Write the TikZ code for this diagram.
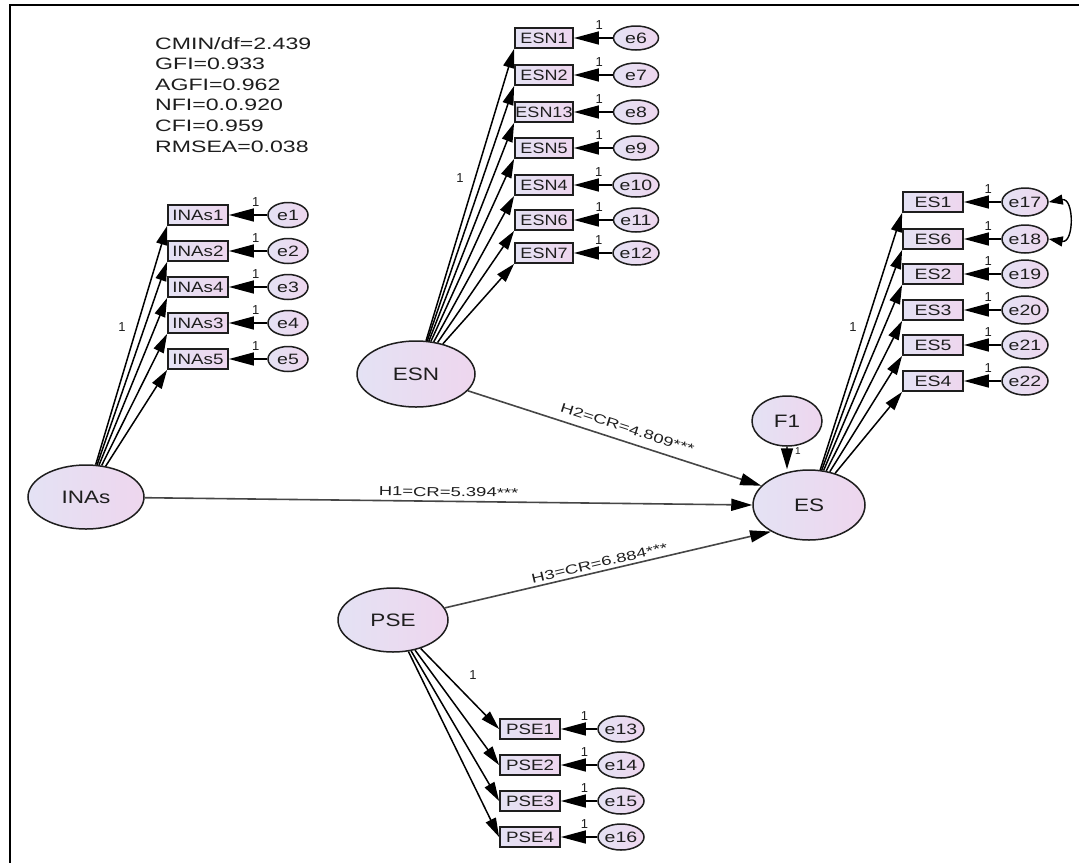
\documentclass[tikz,border=0pt]{standalone}
\usepackage{fontspec}
\setmainfont{Liberation Sans}
\usetikzlibrary{shapes.geometric,arrows.meta,calc}
\definecolor{lavL}{RGB}{228,226,244}
\definecolor{lavR}{RGB}{238,214,238}
\definecolor{ink}{RGB}{30,30,30}
\definecolor{pathgray}{RGB}{70,70,70}
\newcommand\stx[2]{\scalebox{#1}[1]{#2}}
\tikzset{
  latent/.style={ellipse, draw=ink, line width=1.5pt, left color=lavL, right color=lavR,
    inner sep=0pt, minimum width=110pt, minimum height=66pt, text=ink,
    font=\fontsize{18}{18}\selectfont},
  errv/.style={ellipse, draw=ink, line width=1.5pt, left color=lavL, right color=lavR,
    inner sep=0pt, minimum width=45pt, minimum height=26pt, text=ink,
    font=\fontsize{15}{15}\selectfont},
  obs/.style={rectangle, draw=ink, line width=1.8pt, left color=lavL, right color=lavR,
    inner sep=0pt, minimum width=60pt, minimum height=20pt, text=ink,
    font=\fontsize{15}{15}\selectfont},
  load/.style={draw=black, line width=1.5pt, -{Triangle[length=19pt,width=11pt,color=black]}},
  errarr/.style={draw=black, line width=1.5pt, -{Triangle[length=25pt,width=13pt,color=black]}},
  hpath/.style={draw=pathgray, line width=1.6pt, -{Triangle[length=21pt,width=12pt,color=black]}},
  cov/.style={draw=black, line width=1.4pt, {Triangle[length=14pt,width=10pt,color=black]}-{Triangle[length=14pt,width=10pt,color=black]}},
  one/.style={font=\fontsize{13}{13}\selectfont, text=ink},
  hlab/.style={font=\fontsize{13}{13}\selectfont, text=ink, sloped, inner sep=1pt},
}
\begin{document}
\begin{tikzpicture}[x=1pt,y=-1pt]
\useasboundingbox (0,0) rectangle (1079,863);
\fill[white] (0,0) rectangle (1079,863);
% frame
\draw[line width=2.5pt] (1079,5) -- (10,5) -- (10,863);

% fit indices
\node[anchor=north west, align=left, inner sep=0pt, text=ink,
  font=\fontsize{16.5}{20.6}\selectfont] (fit) at (155,37)
  {\stx{1.4}{CMIN/df=2.439}\\ \stx{1.4}{GFI=0.933}\\ \stx{1.4}{AGFI=0.962}\\
   \stx{1.4}{NFI=0.0.920}\\ \stx{1.4}{CFI=0.959}\\ \stx{1.4}{RMSEA=0.038}};

% latent variables
\node[latent, minimum width=116pt, minimum height=64pt] (INAs) at (86,497) {\stx{1.25}{INAs}};
\node[latent, minimum width=118pt, minimum height=66pt] (ESN) at (416,374) {\stx{1.25}{ESN}};
\node[latent, minimum width=112pt, minimum height=70pt] (ES) at (809,505) {\stx{1.25}{ES}};
\node[latent, minimum height=64pt] (PSE) at (393,620) {\stx{1.25}{PSE}};
\node[latent, minimum width=70pt, minimum height=50pt] (F1) at (787,421) {\stx{1.25}{F1}};

% INAs indicators
\foreach \lab/\err/\y [count=\k] in {INAs1/e1/215, INAs2/e2/251, INAs4/e3/287, INAs3/e4/323, INAs5/e5/359}{
  \node[obs] (ia\k) at (198,\y) {\stx{1.25}{\lab}};
  \node[errv, minimum width=40pt, minimum height=25pt] (ie\k) at (288,\y) {\stx{1.3}{\err}};
  \draw[errarr] (ie\k) -- (ia\k) node[pos=0.3, above=4pt, one] {1};
  \draw[load] (INAs) -- (ia\k.south west);
}
\node[one] (oneI) at (122,327) {1};

% ESN indicators
\foreach \lab/\err/\y [count=\k] in {ESN1/e6/38, ESN2/e7/75, ESN13/e8/112, ESN5/e9/148, ESN4/e10/185, ESN6/e11/220, ESN7/e12/253}{
  \node[obs, minimum width=58pt] (na\k) at (544,\y) {\stx{1.2}{\lab}};
  \node[errv, minimum height=24pt] (ne\k) at (636,\y) {\stx{1.3}{\err}};
  \draw[errarr] (ne\k) -- (na\k) node[pos=0.35, above=4pt, one] {1};
  \draw[load] (ESN) -- (na\k.south west);
}
\node[one] (oneN) at (460,178) {1};

% ES indicators
\foreach \lab/\err/\y [count=\k] in {ES1/e17/202, ES6/e18/239, ES2/e19/274, ES3/e20/310, ES5/e21/345, ES4/e22/381}{
  \node[obs] (sa\k) at (933,\y) {\stx{1.3}{\lab}};
  \node[errv, minimum width=46pt, minimum height=28pt] (se\k) at (1025,\y) {\stx{1.3}{\err}};
  \draw[errarr] (se\k) -- (sa\k) node[pos=0.35, above=4pt, one] {1};
  \draw[load] (ES) -- (sa\k.south west);
}
\node[one] (oneS) at (853,327) {1};
\draw[cov] (se1.east) to[out=10, in=-10, looseness=1.8] (se2.east);

% PSE indicators
\foreach \lab/\err/\y [count=\k] in {PSE1/e13/729, PSE2/e14/765, PSE3/e15/801, PSE4/e16/837}{
  \node[obs] (pa\k) at (530,\y) {\stx{1.25}{\lab}};
  \node[errv, minimum width=46pt, minimum height=26pt] (pe\k) at (621,\y) {\stx{1.3}{\err}};
  \draw[errarr] (pe\k) -- (pa\k) node[pos=0.35, above=4pt, one] {1};
  \draw[load] (PSE) -- (pa\k.west);
}
\node[one] (oneP) at (473,675) {1};

% structural paths
\draw[hpath] (INAs) -- (ES.west) node[hlab, pos=0.5, above=3pt] {\stx{1.42}{H1=CR=5.394***}};
\draw[hpath] (ESN) -- (ES.158) node[hlab, pos=0.53, above=7pt] {\stx{1.42}{H2=CR=4.809***}};
\draw[hpath] (PSE) -- (ES.215) node[hlab, pos=0.48, above=2pt] {\stx{1.42}{H3=CR=6.884***}};

% disturbance
\draw[hpath] (F1.south) -- (F1.south |- ES.north);
\node[font=\fontsize{10}{10}\selectfont, text=ink] (oneF) at (798,451) {1};
\end{tikzpicture}
\end{document}
